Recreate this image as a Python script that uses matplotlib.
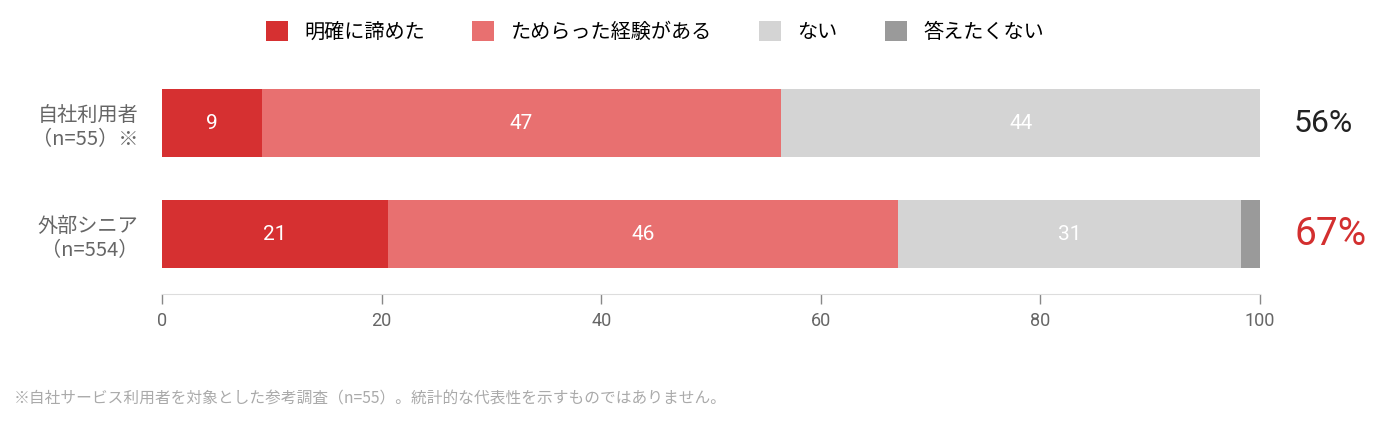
import matplotlib
matplotlib.use("Agg")
import matplotlib.pyplot as plt
from matplotlib.patches import Patch

plt.rcParams['font.family'] = ['Noto Sans CJK JP', 'DejaVu Sans']
NUM_FONT = ['Roboto', 'Noto Sans CJK JP', 'DejaVu Sans']

categories = ["自社利用者\n（n=55）※", "外部シニア\n（n=554）"]
series_names = ["明確に諦めた", "ためらった経験がある", "ない", "答えたくない"]
values = [
    [9.1, 20.6],    # 明確に諦めた
    [47.3, 46.4],   # ためらった経験がある
    [43.6, 31.3],   # ない
    [0.0, 1.7],     # 答えたくない
]
labels = [["9", "21"], ["47", "46"], ["44", "31"], ["", ""]]
totals = ["56%", "67%"]
total_colors = ["#222222", "#D32F2F"]
colors = ["#D63031", "#E87070", "#D4D4D4", "#9A9A9A"]
ticks = [0, 20, 40, 60, 80, 100]
footnote = "※自社サービス利用者を対象とした参考調査（n=55）。統計的な代表性を示すものではありません。"

W, H = 1388, 423
fig = plt.figure(figsize=(W / 100, H / 100), dpi=100)
ax = fig.add_axes([162 / W, 1 - 294 / H, (1260 - 162) / W, (294 - 67.5) / H])

ypos = [0, 1]
left = [0.0, 0.0]
for vals, lab, col in zip(values, labels, colors):
    ax.barh(ypos, vals, left=left, height=0.613, color=col, linewidth=0)
    for i, (v, l) in enumerate(zip(vals, lab)):
        if l:
            ax.text(left[i] + v / 2, ypos[i], l, ha='center', va='center',
                    color='white', fontsize=15, family=NUM_FONT)
    left = [a + b for a, b in zip(left, vals)]

for i, (t, c) in enumerate(zip(totals, total_colors)):
    ax.text(103.1, ypos[i], t, ha='left', va='center', color=c,
            fontsize=23 if i == 0 else 28, family=NUM_FONT)

ax.set_xlim(0, 100)
ax.set_ylim(1.54, -0.5)
ax.set_yticks(ypos)
ax.set_yticklabels(categories, fontsize=14.5, color='#666666', linespacing=1.25)
ax.tick_params(axis='y', length=0, pad=17)
ax.set_xticks(ticks)
ax.set_xticklabels([str(t) for t in ticks], fontsize=13, color='#666666', family=NUM_FONT)
ax.tick_params(axis='x', length=7, color='#888888', width=1, pad=6)
for s in ['top', 'right', 'left']:
    ax.spines[s].set_visible(False)
ax.spines['bottom'].set_color('#DDDDDD')

handles = [Patch(facecolor=c, edgecolor='none') for c in colors]
fig.legend(handles, series_names, loc='center', bbox_to_anchor=(655 / W, 1 - 32 / H),
           ncol=4, frameon=False, fontsize=14.5, handlelength=1.1, handleheight=1.1,
           columnspacing=2.35, handletextpad=0.8)

fig.text(14 / W, 1 - 399 / H, footnote, ha='left', va='center', fontsize=11.3, color='#AAAAAA')

fig.savefig("out.png", dpi=100)
